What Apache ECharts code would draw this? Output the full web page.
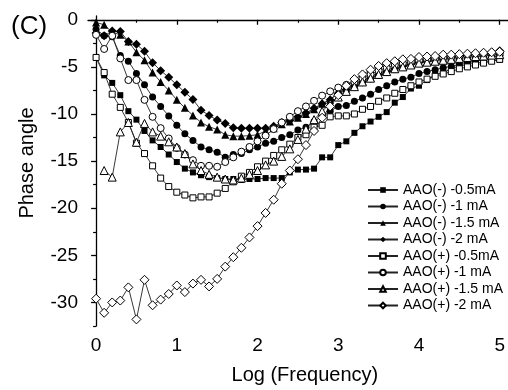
<!DOCTYPE html>
<html>
<head>
<meta charset="utf-8">
<script src="https://cdn.jsdelivr.net/npm/echarts@6/dist/echarts.min.js"></script>
<style>
html,body{margin:0;padding:0;background:#fff;}
#chart{width:508px;height:390px;}
</style>
</head>
<body>
<div id="chart"></div>
<script>
// Log(Frequency) values shared by all series
const logFreq = [0,0.1,0.2,0.3,0.4,0.5,0.6,0.7,0.8,0.9,
  1.0,1.1,1.2,1.3,1.4,1.5,1.6,1.7,1.8,1.9,
  2.0,2.1,2.2,2.3,2.4,2.5,2.6,2.7,2.8,2.9,
  3.0,3.1,3.2,3.3,3.4,3.5,3.6,3.7,3.8,3.9,
  4.0,4.1,4.2,4.3,4.4,4.5,4.6,4.7,4.8,4.9,5.0];

const seriesNames = ["AAO(-) -0.5mA","AAO(-) -1 mA","AAO(-) -1.5 mA","AAO(-) -2 mA",
  "AAO(+) -0.5mA","AAO(+) -1 mA","AAO(+) -1.5 mA","AAO(+) -2 mA"];

const aaoMinus05 = [-4.0,-5.9,-6.7,-8.0,-9.7,-10.6,-11.8,-12.8,-13.5,-14.3,
  -15.1,-15.8,-16.2,-16.5,-16.7,-16.8,-16.9,-16.9,-17.0,-16.9,
  -16.9,-16.8,-16.8,-16.8,-16.2,-15.9,-15.9,-15.8,-14.6,-14.6,
  -13.3,-12.9,-12.0,-11.3,-10.8,-10.3,-9.8,-8.8,-8.2,-7.3,
  -7.0,-6.4,-5.8,-5.6,-5.2,-4.9,-4.75,-4.6,-4.45,-4.35,-4.25];
const aaoMinus1 = [-1.0,-1.7,-1.8,-3.8,-4.4,-5.7,-6.9,-8.2,-9.2,-10.2,
  -11.2,-12.1,-12.8,-13.5,-13.8,-14.05,-14.6,-14.3,-14.2,-13.8,
  -13.5,-13.1,-12.9,-12.5,-12.2,-11.7,-11.4,-10.8,-10.2,-9.7,
  -9.2,-9.1,-8.65,-8.3,-7.9,-7.4,-7.0,-6.6,-6.3,-6.1,
  -5.7,-5.5,-5.3,-5.1,-4.95,-4.75,-4.6,-4.4,-4.2,-4.0,-3.8];
const aaoMinus15 = [-0.28,-0.53,-1.34,-1.59,-2.3,-3.45,-4.3,-5.6,-6.6,-7.5,
  -8.5,-9.35,-10.15,-10.9,-11.35,-11.65,-12.2,-12.35,-12.35,-12.3,
  -12.2,-11.8,-11.5,-11.1,-10.8,-10.4,-10.0,-9.5,-8.9,-8.5,
  -7.6,-7.3,-6.9,-6.5,-6.1,-5.8,-5.5,-5.2,-4.9,-4.7,
  -4.5,-4.4,-4.3,-4.1,-4.0,-3.9,-3.8,-3.7,-3.6,-3.5,-3.4];
const aaoMinus2 = [-1.4,-1.7,-1.2,-1.25,-2.3,-2.6,-3.35,-4.55,-5.4,-6.1,
  -6.9,-7.7,-8.45,-9.6,-10.15,-10.65,-11.0,-11.45,-11.5,-11.5,
  -11.5,-11.5,-11.3,-10.9,-10.7,-10.3,-9.9,-9.4,-8.9,-8.5,
  -7.8,-7.4,-7.0,-6.6,-6.2,-5.8,-5.5,-5.2,-4.9,-4.7,
  -4.5,-4.35,-4.2,-4.1,-4.0,-3.9,-3.75,-3.65,-3.55,-3.45,-3.3];
const aaoPlus05 = [-4.0,-5.6,-7.9,-9.3,-10.9,-13.1,-14.2,-15.5,-16.8,-17.7,
  -18.3,-18.6,-18.9,-18.8,-18.8,-18.4,-17.9,-17.2,-16.6,-16.2,
  -15.6,-15.0,-14.4,-13.8,-13.2,-12.5,-12.2,-11.4,-11.2,-10.3,
  -10.2,-10.2,-10.0,-9.5,-9.2,-8.65,-8.3,-7.8,-7.4,-7.0,
  -6.6,-6.3,-6.0,-5.75,-5.5,-5.2,-5.0,-4.8,-4.6,-4.4,-4.2];
const aaoPlus1 = [-1.6,-3.1,-1.7,-4.1,-6.4,-6.4,-8.5,-10.3,-11.5,-12.6,
  -13.6,-14.3,-14.9,-15.5,-15.5,-15.6,-15.1,-14.6,-14.0,-13.5,
  -12.9,-12.3,-11.6,-10.9,-10.3,-9.7,-9.2,-8.6,-8.05,-7.6,
  -7.2,-6.9,-6.6,-6.2,-5.8,-5.4,-5.1,-4.8,-4.6,-4.45,
  -4.3,-4.2,-4.1,-4.0,-3.95,-3.9,-3.85,-3.8,-3.7,-3.65,-3.6];
const aaoPlus15 = [null,-16.0,-16.7,-11.9,-10.9,-13.0,-11.0,-11.9,-12.35,-12.95,
  -13.5,-14.2,-15.3,-16.0,-16.4,-16.7,-16.9,-17.0,-16.8,-16.4,
  -16.0,-15.4,-15.0,-14.5,-13.7,-12.7,-11.6,-10.6,-9.7,-8.9,
  -8.2,-7.6,-7.1,-6.6,-6.2,-5.8,-5.5,-5.2,-5.0,-4.8,
  -4.6,-4.5,-4.4,-4.3,-4.2,-4.1,-4.0,-3.9,-3.85,-3.75,-3.7];
const aaoPlus2 = [-29.6,-31.1,-30.0,-29.8,-28.4,-31.8,-27.6,-30.3,-29.7,-29.1,
  -28.2,-28.9,-28.0,-27.6,-28.3,-27.5,-26.2,-25.2,-24.2,-23.1,
  -21.9,-20.5,-19.1,-17.4,-16.0,-14.8,-13.3,-11.8,-10.4,-9.2,
  -8.0,-7.0,-6.3,-5.8,-5.3,-4.9,-4.6,-4.4,-4.2,-4.15,
  -3.95,-3.9,-3.85,-3.7,-3.7,-3.65,-3.6,-3.55,-3.5,-3.45,-3.4];

const xTickValues = [0,1,2,3,4,5];
const xMinorValues = [0.5,1.5,2.5,3.5,4.5];
const yTickValues = [0,-5,-10,-15,-20,-25,-30];
const yMinorValues = [-2.5,-7.5,-12.5,-17.5,-22.5,-27.5,-32.5];

const allValues = [aaoMinus05,aaoMinus1,aaoMinus15,aaoMinus2,aaoPlus05,aaoPlus1,aaoPlus15,aaoPlus2];
const symbols = ['rect','circle','triangle','diamond','rect','circle','triangle','diamond'];
const symbolSizes = [6,7,8,9,6,7,8,9];
const hollow = [false,false,false,false,true,true,true,true];

const FONT = "'Liberation Sans', Arial, sans-serif";

const series = allValues.map((vals, i) => ({
  name: seriesNames[i],
  type: 'line',
  xAxisIndex: 0,
  yAxisIndex: 0,
  data: logFreq.map((x, j) => [x, vals[j]]),
  connectNulls: false,
  symbol: symbols[i],
  symbolSize: symbolSizes[i],
  showAllSymbol: true,
  lineStyle: { color: '#222', width: 0.9 },
  itemStyle: hollow[i]
    ? { color: '#fff', borderColor: '#000', borderWidth: 1 }
    : { color: '#000', borderColor: '#000', borderWidth: 0 },
  emphasis: { disabled: true },
  animation: false
}));

const chart = echarts.init(document.getElementById('chart'), null, { renderer: 'canvas' });
chart.setOption({
  backgroundColor: '#fff',
  animation: false,
  textStyle: { fontFamily: FONT },
  grid: { left: 88, right: 0, top: 16, bottom: 63, containLabel: false },
  xAxis: [
    {
      type: 'value', min: -0.1, max: 5.1, position: 'bottom',
      name: 'Log (Frequency)', nameLocation: 'middle', nameGap: 39,
      nameTextStyle: { fontSize: 20, color: '#000', fontFamily: FONT, padding: [0, 0, 0, 14] },
      axisLine: { show: true, lineStyle: { color: '#000', width: 1.3 } },
      axisTick: { show: true, customValues: xTickValues, length: 5, inside: false, lineStyle: { color: '#000', width: 1.3 } },
      axisLabel: { show: true, customValues: xTickValues, fontSize: 19, color: '#000', margin: 10, fontFamily: FONT },
      splitLine: { show: false }
    },
    {
      type: 'value', min: -0.1, max: 5.1, position: 'bottom',
      axisLine: { show: false },
      axisTick: { show: true, customValues: xMinorValues, length: 3, inside: false, lineStyle: { color: '#000', width: 1.2 } },
      axisLabel: { show: false },
      splitLine: { show: false }
    }
  ],
  yAxis: [
    {
      type: 'value', min: -32.5, max: 0.4, position: 'left',
      name: 'Phase angle', nameLocation: 'middle', nameGap: 51,
      nameTextStyle: { fontSize: 20, color: '#000', fontFamily: FONT, padding: [0, 0, 0, 16] },
      axisLine: { show: true, lineStyle: { color: '#000', width: 1.3 } },
      axisTick: { show: true, customValues: yTickValues, length: 5, inside: false, lineStyle: { color: '#000', width: 1.3 } },
      axisLabel: { show: true, customValues: yTickValues, fontSize: 19, color: '#000', margin: 10, fontFamily: FONT },
      splitLine: { show: false }
    },
    {
      type: 'value', min: -32.5, max: 0.4, position: 'left',
      axisLine: { show: false },
      axisTick: { show: true, customValues: yMinorValues, length: 3, inside: false, lineStyle: { color: '#000', width: 1.2 } },
      axisLabel: { show: false },
      splitLine: { show: false }
    }
  ],
  legend: {
    orient: 'vertical', left: 362, top: 178,
    itemWidth: 30, itemHeight: 7, itemGap: 2.5,
    textStyle: { fontSize: 14, color: '#000', fontFamily: FONT },
    data: seriesNames,
    selectedMode: false
  },
  graphic: [
    { type: 'text', left: 11, top: 14, style: { text: '(C)', fontSize: 26, fill: '#000', fontFamily: FONT } }
  ],
  series: series
});
</script>
</body>
</html>
